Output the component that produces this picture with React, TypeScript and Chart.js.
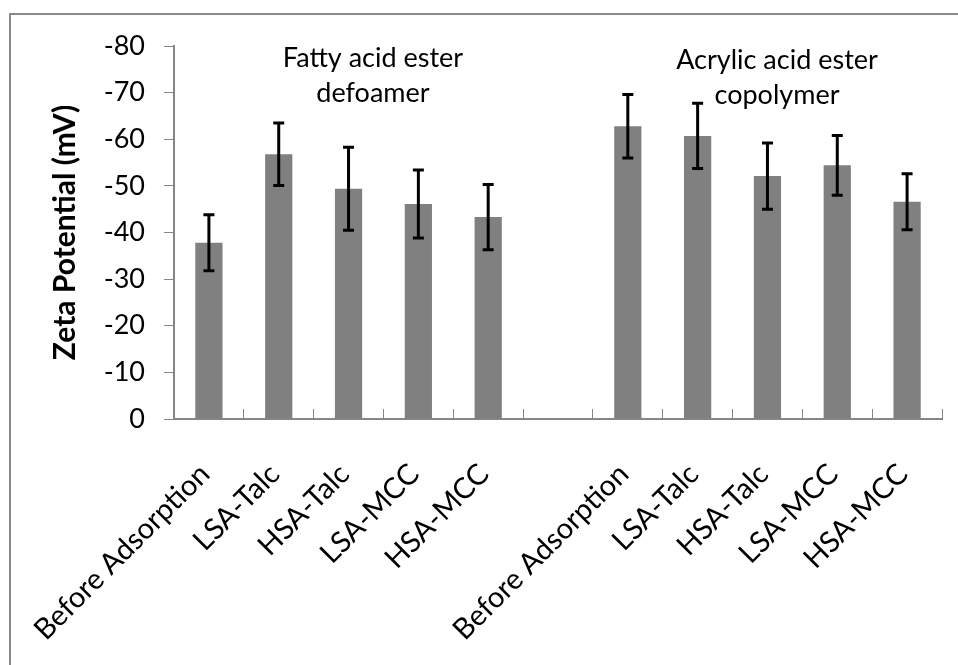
import React, { useEffect, useRef } from "react";
import { Chart, registerables } from "chart.js";

Chart.register(...registerables);

const categories = [
  "Before Adsorption",
  "LSA-Talc",
  "HSA-Talc",
  "LSA-MCC",
  "HSA-MCC",
  "",
  "Before Adsorption",
  "LSA-Talc",
  "HSA-Talc",
  "LSA-MCC",
  "HSA-MCC",
];

const zetaValues = [-37.8, -56.8, -49.4, -46.1, -43.3, null, -62.8, -60.7, -52.1, -54.4, -46.6];
const zetaErrors = [6.0, 6.7, 8.9, 7.3, 7.0, null, 6.8, 7.0, 7.1, 6.4, 6.0];

const yMin = -80;
const yMax = 0;
const yStep = 10;

const groupLabels = [
  ["Fatty acid ester", "defoamer"],
  ["Acrylic acid ester", "copolymer"],
];

const FONT = "Lato, 'Open Sans', sans-serif";
const AXIS_COLOR = "#868686";

const errorBarPlugin = {
  id: "errorBars",
  afterDatasetsDraw(chart: any) {
    const meta = chart.getDatasetMeta(0);
    const yScale = chart.scales.y;
    const ctx = chart.ctx;
    ctx.save();
    ctx.strokeStyle = "#000000";
    ctx.lineWidth = 3;
    ctx.lineCap = "butt";
    meta.data.forEach((bar: any, i: number) => {
      const v = zetaValues[i];
      const e = zetaErrors[i];
      if (v == null || e == null) return;
      const x = bar.x;
      const yTop = yScale.getPixelForValue(v - e);
      const yBot = yScale.getPixelForValue(v + e);
      const cap = 5.5;
      ctx.beginPath();
      ctx.moveTo(x, yTop);
      ctx.lineTo(x, yBot);
      ctx.moveTo(x - cap, yTop);
      ctx.lineTo(x + cap, yTop);
      ctx.moveTo(x - cap, yBot);
      ctx.lineTo(x + cap, yBot);
      ctx.stroke();
    });
    ctx.restore();
  },
};

const groupLabelPlugin = {
  id: "groupLabels",
  afterDraw(chart: any) {
    const ctx = chart.ctx;
    ctx.save();
    ctx.fillStyle = "#000000";
    ctx.font = `27px ${FONT}`;
    ctx.textAlign = "center";
    ctx.textBaseline = "middle";
    const positions = [
      { x: 362, y: 43 },
      { x: 766, y: 45 },
    ];
    groupLabels.forEach((lines, gi) => {
      lines.forEach((line, li) => {
        ctx.fillText(line, positions[gi].x, positions[gi].y + li * 35);
      });
    });
    ctx.restore();
  },
};

export default function App() {
  const canvasRef = useRef<HTMLCanvasElement | null>(null);

  useEffect(() => {
    const canvas = canvasRef.current;
    if (!canvas) return;
    const chart = new Chart(canvas, {
      type: "bar",
      data: {
        labels: categories,
        datasets: [
          {
            data: zetaValues as any,
            backgroundColor: "#808080",
            borderWidth: 0,
            barPercentage: 0.39,
            categoryPercentage: 1,
          },
        ],
      },
      options: {
        responsive: false,
        animation: false,
        devicePixelRatio: 1,
        layout: { padding: { top: 31, right: 16, left: 0, bottom: 0 } },
        plugins: {
          legend: { display: false },
          tooltip: { enabled: false },
          title: { display: false },
        },
        scales: {
          x: {
            grid: {
              display: true,
              drawOnChartArea: false,
              drawTicks: true,
              tickLength: -10,
              offset: true,
              color: AXIS_COLOR,
              lineWidth: 1,
            },
            border: { display: true, color: AXIS_COLOR, width: 2 },
            ticks: {
              autoSkip: false,
              minRotation: 45,
              maxRotation: 45,
              padding: 48,
              labelOffset: -4,
              color: "#000000",
              font: { family: FONT, size: 29 },
            },
            afterFit(scale: any) {
              scale.height = 246;
              scale.paddingLeft = 0;
              scale.paddingRight = 0;
              scale.paddingTop = 0;
              scale.paddingBottom = 0;
            },
          },
          y: {
            min: yMin,
            max: yMax,
            reverse: true,
            grid: {
              display: true,
              drawOnChartArea: false,
              drawTicks: true,
              tickLength: 10,
              color: AXIS_COLOR,
              lineWidth: 1,
            },
            border: { display: true, color: AXIS_COLOR, width: 2 },
            ticks: {
              stepSize: yStep,
              padding: 19,
              color: "#000000",
              font: { family: FONT, size: 27 },
            },
            title: {
              display: true,
              text: "Zeta Potential (mV)",
              color: "#000000",
              font: { family: FONT, size: 30, weight: "bold" },
              padding: { top: 36, bottom: 0 },
            },
            afterFit(scale: any) {
              scale.width = 163;
              scale.paddingTop = 0;
              scale.paddingBottom = 0;
            },
          },
        },
      },
      plugins: [errorBarPlugin, groupLabelPlugin],
    });
    return () => chart.destroy();
  }, []);

  return (
    <div
      style={{
        position: "absolute",
        left: 9,
        top: 13,
        width: 949,
        height: 652,
        boxSizing: "border-box",
        borderLeft: "2px solid #8a8a8a",
        borderTop: "2px solid #8a8a8a",
        background: "#ffffff",
      }}
    >
      <canvas
        ref={canvasRef}
        width={947}
        height={650}
        style={{ display: "block", width: 947, height: 650 }}
      />
    </div>
  );
}
